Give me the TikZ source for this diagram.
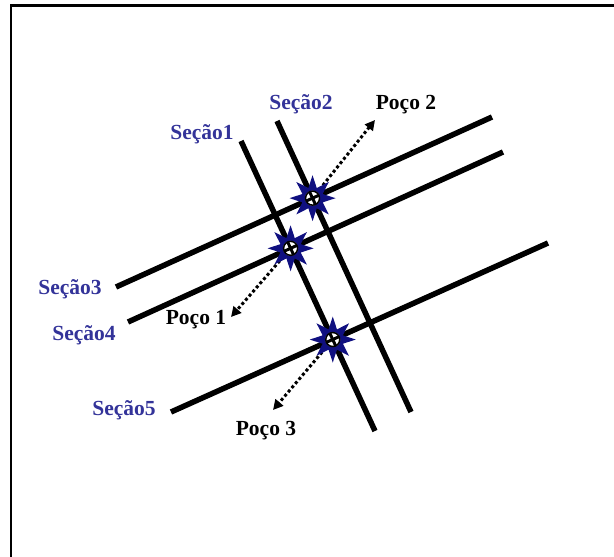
\documentclass[tikz,border=0pt]{standalone}
\usepackage{fontspec}
\setmainfont{Liberation Serif}
\usetikzlibrary{shapes.geometric,arrows.meta}
\definecolor{secblue}{RGB}{51,51,153}
\definecolor{navystar}{RGB}{16,16,128}
\begin{document}
\begin{tikzpicture}[x=1pt,y=-1pt,
 sec/.style={line width=5.5pt},
 frame/.style={line width=2.5pt},
 seclabel/.style={font=\bfseries\fontsize{21.5}{25}\selectfont, text=secblue, inner sep=0pt},
 welllabel/.style={font=\bfseries\fontsize{21.5}{25}\selectfont, text=black, inner sep=0pt},
 wellstar/.style={star, star points=8, star point ratio=2.1, minimum size=46pt, inner sep=0pt, fill=navystar},
 wellhole/.style={circle, fill=white, minimum size=15pt, inner sep=0pt},
 wellarrow/.style={line width=3pt, dash pattern=on 3pt off 2.5pt, -{Triangle[length=10pt,width=10pt]}}]
\useasboundingbox (0,0) rectangle (614,557);
% frame
\coordinate (fbl) at (11,557);
\coordinate (ftl) at (11,5.5);
\coordinate (ftr) at (614,5.5);
\draw[frame] (fbl) -- (ftl) -- (ftr);
% section end points
\coordinate (s1a) at (241,141); \coordinate (s1b) at (375,431);
\coordinate (s2a) at (277,121); \coordinate (s2b) at (411,412);
\coordinate (s3a) at (116,287); \coordinate (s3b) at (492,117);
\coordinate (s4a) at (128,322); \coordinate (s4b) at (503,152);
\coordinate (s5a) at (171,412); \coordinate (s5b) at (548,243);
\draw[sec] (s1a) -- (s1b);
\draw[sec] (s2a) -- (s2b);
\draw[sec] (s3a) -- (s3b);
\draw[sec] (s4a) -- (s4b);
\draw[sec] (s5a) -- (s5b);
% wells
\coordinate (w2) at (intersection of s2a--s2b and s3a--s3b);
\coordinate (w1) at (intersection of s1a--s1b and s4a--s4b);
\coordinate (w3) at (intersection of s1a--s1b and s5a--s5b);
\coordinate (t2) at (375,120);
\coordinate (t1) at (231,317);
\coordinate (t3) at (273,410);
\draw[wellarrow] (w2) -- (t2);
\draw[wellarrow] (w1) -- (t1);
\draw[wellarrow] (w3) -- (t3);
\node[wellstar] (st2) at (w2) {};
\node[wellstar] (st1) at (w1) {};
\node[wellstar] (st3) at (w3) {};
\node[wellhole] (h2) at (w2) {};
\node[wellhole] (h1) at (w1) {};
\node[wellhole] (h3) at (w3) {};
\begin{scope}
\clip (w2) circle (7.5pt);
\draw[line width=3pt] (s2a) -- (s2b); \draw[line width=3pt] (s3a) -- (s3b);
\end{scope}
\begin{scope}
\clip (w1) circle (7.5pt);
\draw[line width=3pt] (s1a) -- (s1b); \draw[line width=3pt] (s4a) -- (s4b);
\end{scope}
\begin{scope}
\clip (w3) circle (7.5pt);
\draw[line width=3pt] (s1a) -- (s1b); \draw[line width=3pt] (s5a) -- (s5b);
\end{scope}
\draw[line width=1.5pt] (w2) circle (7pt);
\draw[line width=1.5pt] (w1) circle (7pt);
\draw[line width=1.5pt] (w3) circle (7pt);
% labels
\node[seclabel] (l1) at (202,134) {Seção1};
\node[seclabel] (l2) at (301,104) {Seção2};
\node[seclabel] (l3) at (70,289) {Seção3};
\node[seclabel] (l4) at (84,335) {Seção4};
\node[seclabel] (l5) at (124,410) {Seção5};
\node[welllabel] (p2) at (406,105) {Poço 2};
\node[welllabel] (p1) at (196,320) {Poço 1};
\node[welllabel] (p3) at (266,431) {Poço 3};
\end{tikzpicture}
\end{document}
